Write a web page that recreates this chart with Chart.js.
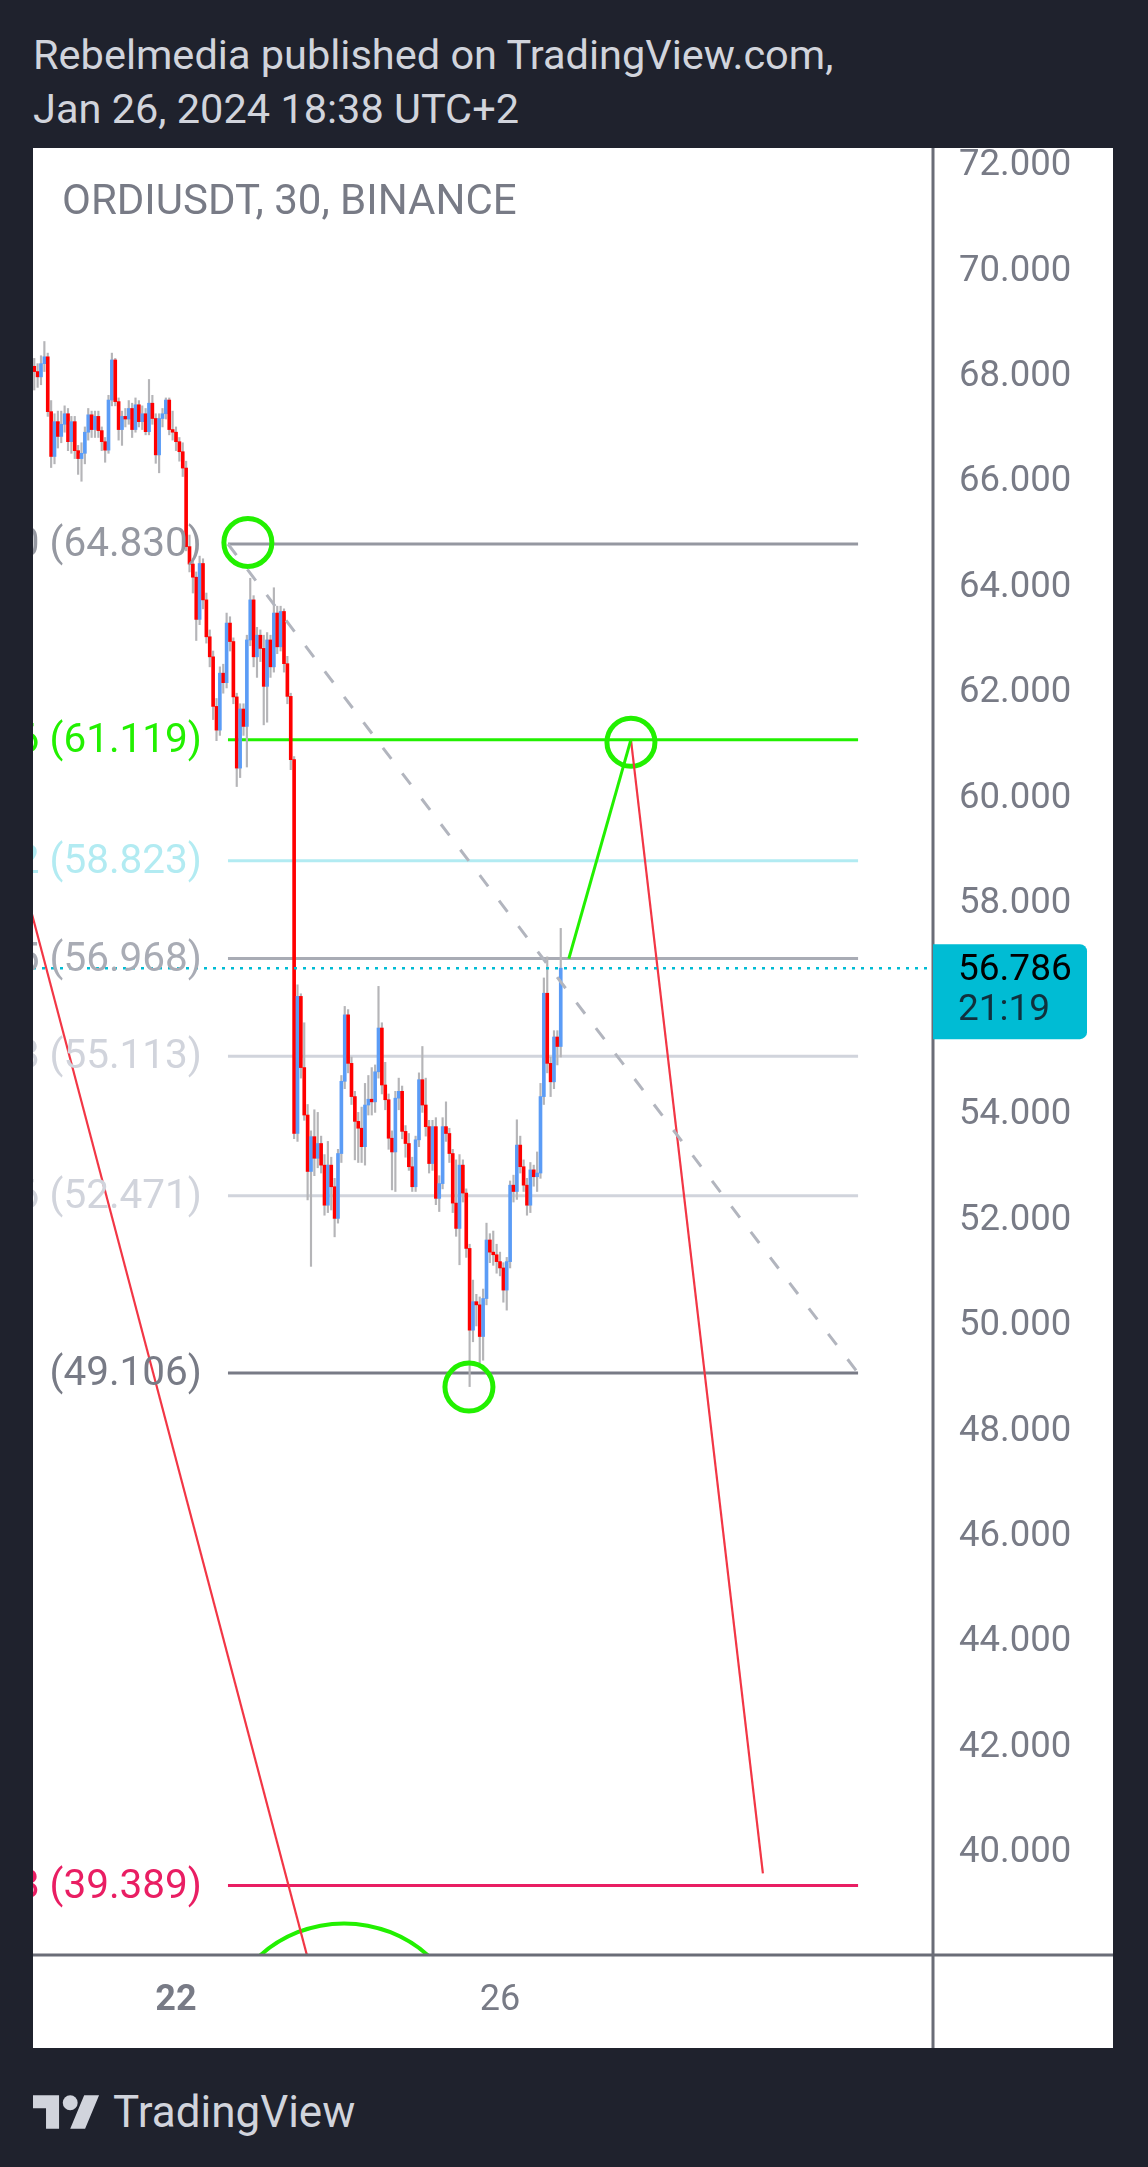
<!DOCTYPE html>
<html>
<head>
<meta charset="utf-8">
<title>ORDIUSDT, 30, BINANCE</title>
<script src="https://cdn.jsdelivr.net/npm/chart.js@4.4.1/dist/chart.umd.min.js"></script>
<style>
  html, body { margin: 0; padding: 0; }
  body {
    width: 1148px; height: 2167px; position: relative; overflow: hidden;
    background: #1f222d; font-family: Roboto, "Noto Sans", sans-serif;
  }
  .title { position: absolute; left: 33px; color: #d1d4dc; font-size: 41.5px; line-height: 54px; white-space: nowrap; }
  #chartBox { position: absolute; left: 33px; top: 148px; width: 1080px; height: 1900px; background: #fff; }
  .brand { position: absolute; left: 33px; top: 2085px; height: 54px; display: flex; align-items: center; color: #d1d4dc; font-size: 44px; }
  .brand svg { margin-right: 13px; }
</style>
</head>
<body>
<div class="title" style="top:28px">Rebelmedia published on TradingView.com,</div>
<div class="title" style="top:82px">Jan 26, 2024 18:38 UTC+2</div>
<div id="chartBox"><canvas id="chart" width="1080" height="1900"></canvas></div>
<div class="brand">
  <svg width="67" height="34" viewBox="0 4 36 18" fill="#d1d4dc"><path d="M14 22H7V11H0V4h14v18zM28 22h-8l7.5-18h8L28 22z"/><circle cx="20" cy="8" r="4"/></svg>
  <span>TradingView</span>
</div>
<script>
// hourly candles, first one at Jan 20 06:00 (hours counted from Jan 20 00:00)
const firstHour = 6;
const opens = [
  68.20, 68.10, 68.00, 68.25, 68.38, 67.34, 66.49, 67.15, 66.87, 67.10, 67.30, 66.77, 67.15, 66.60, 66.45, 66.55,
  66.95, 67.28, 67.00, 67.25, 66.98, 66.77, 66.61, 67.56, 68.32, 67.53, 67.00, 67.25, 67.20, 67.40, 67.00, 67.47,
  67.15, 67.30, 66.96, 67.50, 67.21, 66.52, 67.21, 67.30, 67.56, 67.00, 66.95, 66.77, 66.58, 66.27, 64.78, 64.45,
  64.20, 63.40, 64.46, 63.77, 63.07, 62.69, 61.75, 61.30, 62.38, 62.20, 63.33, 62.98, 61.93, 60.58, 61.70, 61.37,
  63.01, 63.77, 62.69, 63.10, 62.85, 62.13, 63.01, 62.50, 63.52, 62.88, 63.55, 62.56, 61.94, 60.74, 53.65, 56.25,
  54.90, 54.00, 52.93, 53.59, 53.18, 53.46, 53.05, 52.29, 53.05, 52.64, 52.04, 53.27, 54.64, 55.90, 54.98, 54.35,
  53.88, 53.75, 53.40, 54.19, 54.30, 54.25, 54.82, 55.65, 54.57, 54.29, 53.56, 53.30, 54.32, 54.45, 53.69, 53.46,
  53.02, 52.64, 53.53, 54.67, 54.19, 53.78, 53.08, 53.78, 52.42, 52.70, 53.78, 53.65, 53.27, 52.33, 51.85, 53.05,
  52.52, 51.47, 49.92, 50.46, 50.40, 49.80, 50.52, 51.63, 51.40, 51.35, 51.22, 51.10, 50.68, 51.22, 52.67, 52.55,
  53.43, 53.02, 52.67, 52.29, 52.96, 52.83, 52.90, 54.35, 56.31, 54.98, 54.63, 55.48, 55.30
];
const highs = [
  68.35, 68.25, 68.40, 68.67, 68.45, 67.55, 67.30, 67.35, 67.35, 67.45, 67.40, 67.25, 67.25, 66.70, 66.75, 67.05,
  67.40, 67.35, 67.35, 67.35, 67.05, 66.85, 67.65, 68.45, 68.35, 67.60, 67.35, 67.40, 67.55, 67.50, 67.60, 67.55,
  67.45, 67.40, 67.95, 67.65, 67.30, 67.30, 67.40, 67.60, 67.60, 67.35, 67.05, 66.85, 66.75, 66.40, 65.00, 64.55,
  64.30, 64.60, 64.55, 63.90, 63.20, 62.80, 61.90, 62.50, 62.55, 63.52, 63.45, 63.05, 62.00, 61.80, 61.80, 63.10,
  64.18, 63.85, 63.25, 63.20, 63.10, 63.15, 63.10, 64.00, 63.65, 63.65, 63.60, 62.70, 62.00, 60.80, 56.47, 56.30,
  55.75, 54.20, 53.70, 54.10, 54.05, 53.60, 53.25, 53.50, 53.20, 52.80, 53.35, 54.75, 56.06, 56.00, 55.10, 54.45,
  54.05, 54.15, 54.60, 54.75, 54.90, 54.95, 56.44, 55.75, 55.00, 54.40, 53.70, 54.45, 54.70, 54.55, 53.80, 53.65,
  53.20, 53.60, 54.80, 55.30, 54.70, 53.90, 53.90, 53.95, 52.85, 53.95, 54.25, 53.75, 53.35, 53.15, 53.25, 53.15,
  52.60, 51.55, 50.87, 50.60, 50.55, 50.70, 51.95, 51.75, 51.80, 51.55, 51.40, 51.20, 51.30, 52.75, 52.86, 53.91,
  53.60, 53.15, 52.80, 53.10, 53.05, 53.30, 54.60, 56.60, 57.00, 55.10, 55.60, 55.60, 57.54
];
const lows = [
  67.75, 67.80, 67.85, 68.10, 67.25, 66.28, 66.35, 66.65, 66.75, 66.95, 66.60, 66.55, 66.45, 66.15, 66.02, 66.35,
  66.80, 66.85, 66.85, 66.85, 66.60, 66.38, 66.55, 67.45, 67.45, 66.80, 66.70, 67.05, 67.10, 66.85, 66.95, 67.05,
  67.00, 66.90, 66.90, 67.10, 66.36, 66.18, 67.05, 67.20, 66.90, 66.80, 66.60, 66.40, 66.11, 64.70, 64.30, 63.90,
  63.00, 63.30, 63.60, 62.95, 62.50, 61.50, 61.10, 61.20, 62.00, 62.10, 62.80, 61.80, 60.23, 60.40, 61.20, 60.60,
  62.90, 62.50, 62.30, 62.60, 61.40, 61.45, 62.30, 62.40, 62.75, 62.80, 62.40, 61.80, 60.55, 53.55, 53.50, 54.70,
  53.90, 52.39, 51.13, 52.85, 53.00, 52.90, 52.10, 52.15, 52.20, 51.69, 51.95, 53.10, 54.50, 54.80, 54.20, 53.15,
  53.10, 53.10, 53.05, 54.00, 54.00, 54.05, 54.70, 54.40, 54.10, 53.35, 52.58, 52.55, 54.10, 53.55, 53.20, 52.95,
  52.55, 52.55, 53.40, 54.05, 53.60, 52.90, 52.95, 52.30, 52.17, 52.60, 53.50, 53.10, 52.15, 51.70, 51.16, 52.35,
  51.30, 48.85, 49.70, 50.00, 49.29, 49.35, 50.40, 51.20, 51.15, 51.00, 50.95, 50.45, 50.30, 51.10, 52.35, 52.40,
  52.90, 52.55, 52.10, 52.15, 52.65, 52.55, 52.80, 54.20, 54.80, 54.35, 54.50, 54.95, 55.10
];
const closes = [
  68.10, 68.00, 68.25, 68.38, 67.34, 66.49, 67.15, 66.87, 67.10, 67.30, 66.77, 67.15, 66.60, 66.45, 66.55, 66.95,
  67.28, 67.00, 67.25, 66.98, 66.77, 66.61, 67.56, 68.32, 67.53, 67.00, 67.25, 67.20, 67.40, 67.00, 67.47, 67.15,
  67.30, 66.96, 67.50, 67.21, 66.52, 67.21, 67.30, 67.56, 67.00, 66.95, 66.77, 66.58, 66.27, 64.78, 64.45, 64.20,
  63.40, 64.46, 63.77, 63.07, 62.69, 61.75, 61.30, 62.38, 62.20, 63.33, 62.98, 61.93, 60.58, 61.70, 61.37, 63.01,
  63.77, 62.69, 63.10, 62.85, 62.13, 63.01, 62.50, 63.52, 62.88, 63.55, 62.56, 61.94, 60.74, 53.65, 56.25, 54.90,
  54.00, 52.93, 53.59, 53.18, 53.46, 53.05, 52.29, 53.05, 52.64, 52.04, 53.27, 54.64, 55.90, 54.98, 54.35, 53.88,
  53.75, 53.40, 54.19, 54.30, 54.25, 54.82, 55.65, 54.57, 54.29, 53.56, 53.30, 54.32, 54.45, 53.69, 53.46, 53.02,
  52.64, 53.53, 54.67, 54.19, 53.78, 53.08, 53.78, 52.42, 52.70, 53.78, 53.65, 53.27, 52.33, 51.85, 53.05, 52.52,
  51.47, 49.92, 50.46, 50.40, 49.80, 50.52, 51.63, 51.40, 51.35, 51.22, 51.10, 50.68, 51.22, 52.67, 52.55, 53.43,
  53.02, 52.67, 52.29, 52.96, 52.83, 52.90, 54.35, 56.31, 54.98, 54.63, 55.48, 55.30, 56.786
];

const priceTicks = [40, 42, 44, 46, 48, 50, 52, 54, 56, 58, 60, 62, 64, 66, 68, 70, 72];
const dayTickHours = [48, 144];
const dayTickLabels = ['22', '26'];

// fib retracement, drawn from the swing high to the swing low
const fibLevels = [64.830, 61.119, 58.823, 56.968, 55.113, 52.471, 49.106, 39.389];
const fibRatios = ['0', '0.236', '0.382', '0.5', '0.618', '0.786', '1', '1.618'];
const fibColors = ['#9598a1', '#22f000', '#b2ebf2', '#a9acb5', '#d1d4dc', '#d1d4dc', '#787b86', '#e91e63'];
const fibFrom = { x: 63.4, y: 64.830 };
const fibTo = { x: 250.1, y: 49.106 };

// projected path up to the 0.236 level and down to the 1.618 level
const upPath = [{ x: 164.4, y: 56.968 }, { x: 182.8, y: 61.119 }];
const downPath = [{ x: 182.8, y: 61.119 }, { x: 221.9, y: 39.62 }];
const trendLine = [{ x: 0, y: 59.1 }, { x: 90, y: 37.29 }];
const markers = [{ x: 69.3, y: 64.86 }, { x: 134.8, y: 48.84 }, { x: 182.8, y: 61.07 }];
const bigArc = [{ x: 97.8, y: 36.28 }];

const lastPrice = 56.786;
const countdown = '21:19';
const xMin = 5.63, xMax = 272.3;
const yMin = 38.07, yMax = 72.34;

Chart.defaults.font.family = 'Roboto, "Noto Sans", sans-serif';

const hours = closes.map((c, i) => firstHour + i);
const wickData = hours.map((h, i) => ({ x: h, y: [lows[i], highs[i]] }));
const bodyData = hours.map((h, i) => ({ x: h, y: [opens[i], closes[i]] }));
const bodyColors = closes.map((c, i) => c < opens[i] ? '#ff0000' : '#5b9cf6');

function lineSet(data, color, width, extra) {
    return Object.assign({
        type: 'line', data: data, borderColor: color, borderWidth: width,
        pointRadius: 0, pointHoverRadius: 0, fill: false, order: 0
    }, extra || {});
}

const fibSets = fibLevels.map((lv, i) =>
    lineSet([{ x: fibFrom.x, y: lv }, { x: fibTo.x, y: lv }], fibColors[i], 3, { order: 3 }));

const overlay = {
    id: 'overlay',
    afterDatasetsDraw(chart) {
        const { ctx, scales: { x, y } } = chart;
        ctx.save();
        ctx.textBaseline = 'middle';
        ctx.font = '42px Roboto';
        ctx.fillStyle = '#787b86';
        ctx.textAlign = 'left';
        ctx.fillText('ORDIUSDT, 30, BINANCE', 29, 55);

        // level labels sit left of the fib lines
        ctx.font = '40.5px Roboto';
        ctx.textAlign = 'right';
        const lx = x.getPixelForValue(fibFrom.x) - 26;
        fibLevels.forEach((lv, i) => {
            ctx.fillStyle = fibColors[i];
            ctx.fillText(fibRatios[i] + ' (' + lv.toFixed(3) + ')', lx, y.getPixelForValue(lv) + 2);
        });
        ctx.restore();
    },
    afterDraw(chart) {
        const { ctx, chartArea: a, width, height } = chart;
        ctx.save();
        ctx.strokeStyle = '#6a6d77';
        ctx.lineWidth = 3;
        ctx.beginPath();
        ctx.moveTo(a.right, 0); ctx.lineTo(a.right, height);
        ctx.moveTo(0, a.bottom); ctx.lineTo(width, a.bottom);
        ctx.stroke();

        // last price tag on the price scale
        const py = chart.scales.y.getPixelForValue(lastPrice);
        ctx.fillStyle = '#00bcd4';
        ctx.beginPath();
        ctx.roundRect(a.right, py - 24, 154, 95, [0, 7, 7, 0]);
        ctx.fill();
        ctx.font = '37px Roboto';
        ctx.textAlign = 'left';
        ctx.textBaseline = 'middle';
        ctx.fillStyle = '#000000';
        ctx.fillText(lastPrice.toFixed(3), a.right + 25, py + 3);
        ctx.fillStyle = 'rgba(19, 23, 34, 0.85)';
        ctx.fillText(countdown, a.right + 25, py + 43);
        ctx.restore();
    }
};

new Chart(document.getElementById('chart'), {
    type: 'bar',
    data: {
        datasets: [
            { data: wickData, backgroundColor: '#b5b5b8', barThickness: 1.5, grouped: false, order: 2 },
            { data: bodyData, backgroundColor: bodyColors, barThickness: 3, minBarLength: 2, grouped: false, order: 1 },
            ...fibSets,
            lineSet([fibFrom, fibTo], '#b2b5be', 3, { borderDash: [14, 18], order: 0 }),
            lineSet([{ x: xMin, y: lastPrice }, { x: xMax, y: lastPrice }], '#00bcd4', 2.5, { borderDash: [3, 6] }),
            lineSet(upPath, '#22f000', 3),
            lineSet(downPath, '#f23645', 2.2),
            lineSet(trendLine, '#f23645', 2.2, { clip: 0 }),
            lineSet(markers, '#22f000', 0, {
                showLine: false, pointRadius: 24, pointHoverRadius: 24, pointBorderWidth: 5,
                pointBorderColor: '#22f000', pointBackgroundColor: 'rgba(0,0,0,0)'
            }),
            lineSet(bigArc, '#22f000', 0, {
                showLine: false, pointRadius: 126, pointHoverRadius: 126, pointBorderWidth: 4, clip: 0,
                pointBorderColor: '#22f000', pointBackgroundColor: 'rgba(0,0,0,0)'
            })
        ]
    },
    options: {
        responsive: false,
        animation: false,
        devicePixelRatio: 1,
        events: [],
        layout: { padding: 0, autoPadding: false },
        plugins: { legend: { display: false }, tooltip: { enabled: false } },
        scales: {
            x: {
                type: 'linear', min: xMin, max: xMax, offset: false,
                grid: { display: false, drawTicks: false },
                border: { display: false },
                afterBuildTicks: s => { s.ticks = dayTickHours.map(v => ({ value: v })); },
                afterFit: s => { s.height = 93; s.paddingLeft = 0; s.paddingRight = 0; },
                ticks: {
                    autoSkip: false, maxRotation: 0, padding: 24, color: '#787b86',
                    font: c => ({ size: 36, weight: c.index === 0 ? 'bold' : 'normal' }),
                    callback: (v, i) => dayTickLabels[i]
                }
            },
            y: {
                position: 'right', min: yMin, max: yMax,
                grid: { display: false, drawTicks: false },
                border: { display: false },
                afterBuildTicks: s => { s.ticks = priceTicks.map(v => ({ value: v })); },
                afterFit: s => { s.width = 180; s.paddingTop = 0; s.paddingBottom = 0; },
                ticks: {
                    autoSkip: false, padding: 26, color: '#787b86', font: { size: 36.5 },
                    callback: v => v.toFixed(3)
                }
            }
        }
    },
    plugins: [overlay]
});
</script>
</body>
</html>
